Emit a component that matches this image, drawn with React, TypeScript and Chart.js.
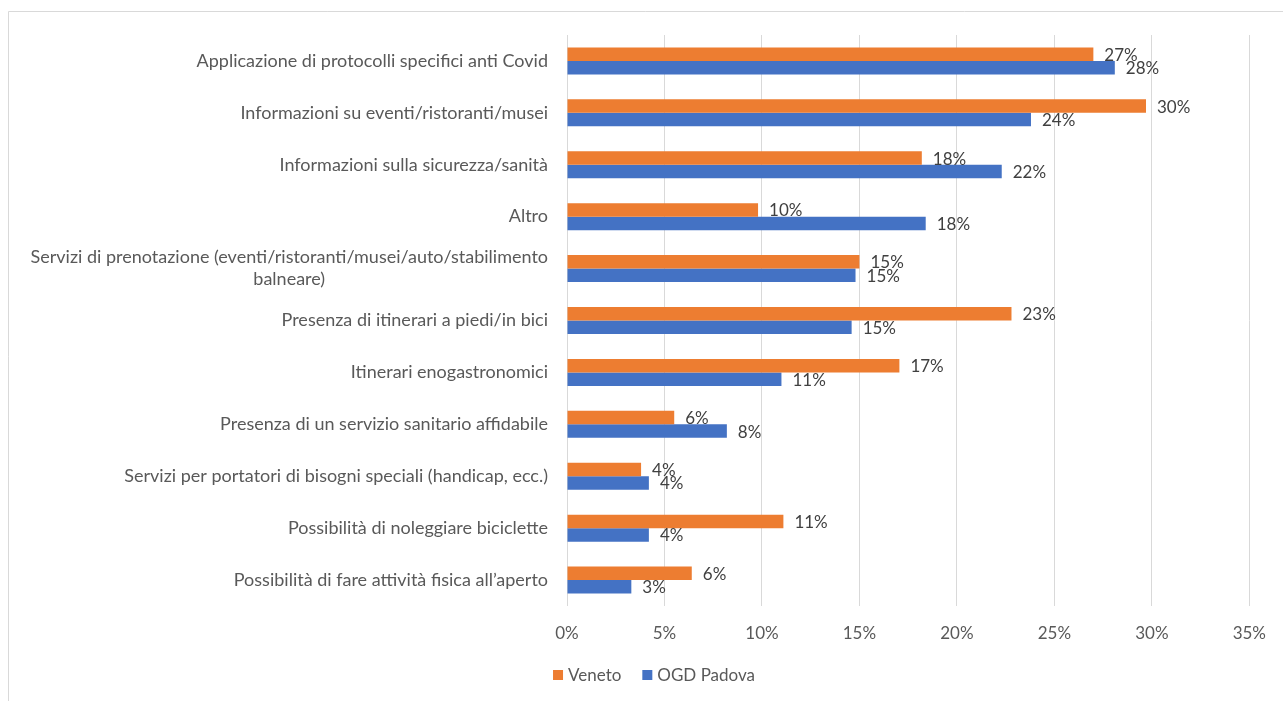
import React, { useEffect, useRef } from "react";
import { Chart, registerables } from "chart.js";

Chart.register(...registerables);

const categories: (string | string[])[] = [
  "Applicazione di protocolli specifici anti Covid",
  "Informazioni su eventi/ristoranti/musei",
  "Informazioni sulla sicurezza/sanità",
  "Altro",
  ["Servizi di prenotazione (eventi/ristoranti/musei/auto/stabilimento", "balneare)"],
  "Presenza di itinerari a piedi/in bici",
  "Itinerari enogastronomici",
  "Presenza di un servizio sanitario affidabile",
  "Servizi per portatori di bisogni speciali (handicap, ecc.)",
  "Possibilità di noleggiare biciclette",
  "Possibilità di fare attività fisica all’aperto",
];

const seriesNames = ["Veneto", "OGD Padova"];
const seriesColors = ["#ED7D31", "#4472C4"];

const venetoValues = [27.0, 29.7, 18.2, 9.8, 15.0, 22.8, 17.05, 5.5, 3.8, 11.1, 6.4];
const padovaValues = [28.1, 23.8, 22.3, 18.4, 14.8, 14.6, 11.0, 8.2, 4.2, 4.2, 3.3];

const xMin = 0;
const xMax = 35;
const xStep = 5;

const FONT = "Lato, 'Open Sans', sans-serif";

const framePlugin = {
  id: "frame",
  beforeDraw(chart: any) {
    const ctx = chart.ctx;
    ctx.save();
    ctx.fillStyle = "#ffffff";
    ctx.fillRect(0, 0, chart.width, chart.height);
    ctx.strokeStyle = "#d9d9d9";
    ctx.lineWidth = 1;
    ctx.beginPath();
    ctx.moveTo(8.5, chart.height);
    ctx.lineTo(8.5, 11.5);
    ctx.lineTo(chart.width, 11.5);
    ctx.stroke();
    ctx.restore();
  },
};

const yLabelPlugin = {
  id: "yLabels",
  afterDraw(chart: any) {
    const ctx = chart.ctx;
    const yScale = chart.scales.y;
    const right = chart.chartArea.left - 19;
    ctx.save();
    ctx.font = `18px ${FONT}`;
    ctx.fillStyle = "#595959";
    ctx.textBaseline = "middle";
    const lineH = 22;
    categories.forEach((lab, i) => {
      const cy = yScale.getPixelForValue(i);
      const lines = Array.isArray(lab) ? lab : [lab];
      const widths = lines.map((l) => ctx.measureText(l).width);
      const w = Math.max(...widths);
      const startY = cy - ((lines.length - 1) * lineH) / 2;
      lines.forEach((l, j) => {
        if (lines.length === 1) {
          ctx.textAlign = "right";
          ctx.fillText(l, right, startY + j * lineH);
        } else {
          ctx.textAlign = "center";
          ctx.fillText(l, right - w / 2, startY + j * lineH);
        }
      });
    });
    ctx.restore();
  },
};

const dataLabelPlugin = {
  id: "dataLabels",
  afterDatasetsDraw(chart: any) {
    const ctx = chart.ctx;
    ctx.save();
    ctx.font = `17px ${FONT}`;
    ctx.fillStyle = "#404040";
    ctx.textAlign = "left";
    ctx.textBaseline = "middle";
    chart.data.datasets.forEach((ds: any, di: number) => {
      const meta = chart.getDatasetMeta(di);
      meta.data.forEach((bar: any, i: number) => {
        const v = ds.data[i];
        ctx.fillText(`${Math.round(v)}%`, bar.x + 11, bar.y + 1);
      });
    });
    ctx.restore();
  },
};

const legendPlugin = {
  id: "customLegend",
  afterDraw(chart: any) {
    const ctx = chart.ctx;
    ctx.save();
    ctx.font = `17px ${FONT}`;
    ctx.textBaseline = "middle";
    ctx.textAlign = "left";
    const box = 10;
    const gapBoxText = 5;
    const gapItems = 21;
    const items = chart.data.datasets.map((ds: any) => ({
      label: ds.label,
      color: ds.backgroundColor,
      w: ctx.measureText(ds.label).width,
    }));
    const total =
      items.reduce((s: number, it: any) => s + box + gapBoxText + it.w, 0) +
      gapItems * (items.length - 1);
    let x = 654 - total / 2;
    const cy = 675;
    items.forEach((it: any) => {
      ctx.fillStyle = it.color;
      ctx.fillRect(x, cy - box / 2, box, box);
      x += box + gapBoxText;
      ctx.fillStyle = "#595959";
      ctx.fillText(it.label, x, cy + 1);
      x += it.w + gapItems;
    });
    ctx.restore();
  },
};

export default function App() {
  const canvasRef = useRef<HTMLCanvasElement | null>(null);

  useEffect(() => {
    if (!canvasRef.current) return;
    const chart = new Chart(canvasRef.current, {
      type: "bar",
      data: {
        labels: categories.map((c) => (Array.isArray(c) ? c.join(" ") : c)),
        datasets: [
          {
            label: seriesNames[0],
            data: venetoValues,
            backgroundColor: seriesColors[0],
            categoryPercentage: 0.52,
            barPercentage: 1,
          },
          {
            label: seriesNames[1],
            data: padovaValues,
            backgroundColor: seriesColors[1],
            categoryPercentage: 0.52,
            barPercentage: 1,
          },
        ],
      },
      options: {
        indexAxis: "y",
        animation: false,
        responsive: true,
        maintainAspectRatio: false,
        layout: {
          padding: { left: 567, right: 33, top: 35, bottom: 45 },
        },
        plugins: {
          legend: { display: false },
          tooltip: { enabled: false },
        },
        scales: {
          x: {
            min: xMin,
            max: xMax,
            afterFit: (scale: any) => {
              scale.height = 50;
            },
            ticks: {
              stepSize: xStep,
              color: "#595959",
              font: { family: FONT, size: 17 },
              padding: 17,
              callback: (v: any) => `${v}%`,
            },
            grid: { color: "#d9d9d9", lineWidth: 1, drawTicks: false },
            border: { display: false },
          },
          y: {
            ticks: { display: false },
            grid: { display: false, drawTicks: false },
            border: { display: false },
            afterFit: (scale: any) => {
              scale.width = 0;
            },
          },
        },
      },
      plugins: [framePlugin, yLabelPlugin, dataLabelPlugin, legendPlugin],
    });
    return () => chart.destroy();
  }, []);

  return (
    <div style={{ position: "absolute", left: 0, top: 0, width: 1283, height: 701, background: "#fff" }}>
      <canvas ref={canvasRef} />
    </div>
  );
}
